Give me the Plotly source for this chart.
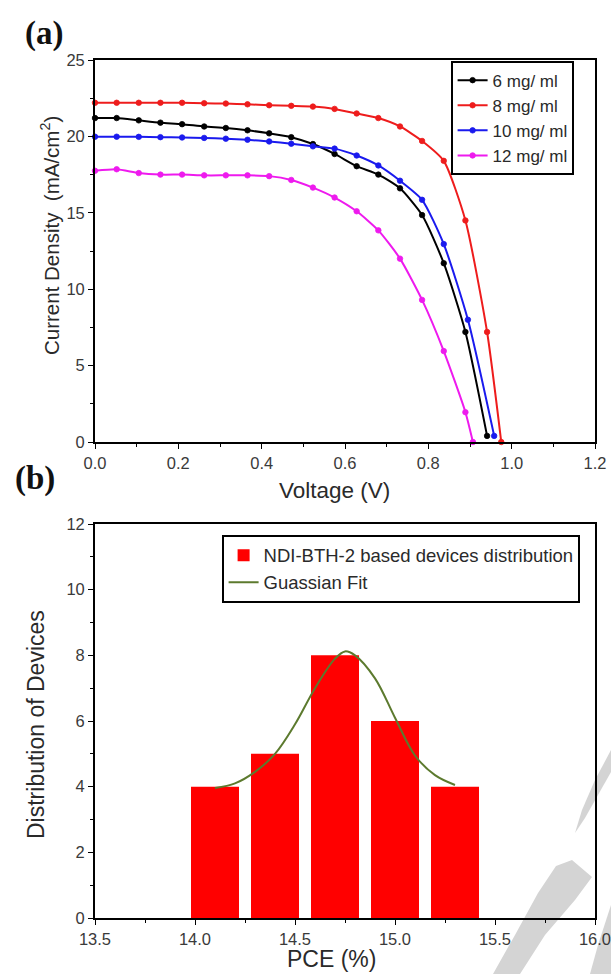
import plotly.graph_objects as go

# ---------------- Data: panel (a) J-V curves ----------------
voltage_6 = [0.0, 0.052, 0.105, 0.157, 0.209, 0.262, 0.314, 0.366, 0.418, 0.471, 0.523, 0.575, 0.628, 0.680, 0.732, 0.785, 0.837, 0.889, 0.941]
current_6 = [21.2, 21.2, 21.05, 20.9, 20.8, 20.65, 20.55, 20.4, 20.2, 19.95, 19.5, 18.85, 18.05, 17.5, 16.6, 14.85, 11.7, 7.2, 0.4]

voltage_8 = [0.0, 0.052, 0.105, 0.157, 0.209, 0.262, 0.314, 0.366, 0.418, 0.471, 0.523, 0.575, 0.628, 0.680, 0.732, 0.785, 0.837, 0.889, 0.941, 0.975]
current_8 = [22.2, 22.2, 22.2, 22.2, 22.2, 22.17, 22.15, 22.1, 22.04, 22.0, 21.95, 21.8, 21.5, 21.2, 20.65, 19.7, 18.4, 14.5, 7.2, 0.0]

voltage_10 = [0.0, 0.052, 0.105, 0.157, 0.209, 0.262, 0.314, 0.366, 0.418, 0.471, 0.523, 0.575, 0.628, 0.680, 0.732, 0.785, 0.837, 0.895, 0.958]
current_10 = [19.98, 19.98, 19.97, 19.95, 19.93, 19.9, 19.85, 19.78, 19.67, 19.52, 19.35, 19.2, 18.75, 18.1, 17.1, 15.85, 12.95, 8.0, 0.4]

voltage_12 = [0.0, 0.052, 0.105, 0.157, 0.209, 0.262, 0.314, 0.366, 0.418, 0.471, 0.523, 0.575, 0.628, 0.680, 0.732, 0.785, 0.837, 0.889, 0.907]
current_12 = [17.75, 17.85, 17.6, 17.5, 17.5, 17.45, 17.45, 17.45, 17.4, 17.15, 16.65, 16.0, 15.1, 13.85, 12.0, 9.3, 5.95, 1.95, 0.0]

series_names = ["6 mg/ ml", "8 mg/ ml", "10 mg/ ml", "12 mg/ ml"]
series_colors = ["#000000", "#ee1c1c", "#1a1aee", "#ee1aee"]

# ---------------- Data: panel (b) PCE distribution ----------------
pce_bins = [14.1, 14.4, 14.7, 15.0, 15.3]
device_counts = [4, 5, 8, 6, 4]
fit_x = [14.1, 14.2, 14.3, 14.4, 14.5, 14.6, 14.7, 14.75, 14.8, 14.9, 15.0, 15.1, 15.2, 15.3]
fit_y = [3.96, 4.1, 4.45, 5.0, 5.9, 7.0, 7.9, 8.12, 8.0, 7.3, 6.1, 4.95, 4.35, 4.05]

FONT = "Liberation Sans, Arial, sans-serif"
SERIF = "Liberation Serif, Times New Roman, serif"
TXT = "#2a2a2a"
TICK = "#3a3a3a"

W, H = 611, 974
ML, MR, MT, MB = 95, 16, 60, 56
PW, PH = W - ML - MR, H - MT - MB


def px(x):
    return (x - ML) / PW


def py(y):
    return (H - MB - y) / PH


fig = go.Figure()

vs = [voltage_6, voltage_8, voltage_10, voltage_12]
cs = [current_6, current_8, current_10, current_12]
for v, c, n, col in zip(vs, cs, series_names, series_colors):
    fig.add_trace(go.Scatter(
        x=v, y=c, name=n, mode="lines+markers",
        line=dict(color=col, width=2, shape="spline", smoothing=0.6),
        marker=dict(symbol="circle", size=5.5, color=col,
                    line=dict(color=col, width=0.8)),
        xaxis="x", yaxis="y", legend="legend", cliponaxis=False,
    ))

fig.add_trace(go.Bar(
    x=pce_bins, y=device_counts, width=0.24,
    name="NDI-BTH-2 based devices distribution",
    marker=dict(color="#ff0000", line=dict(width=0)),
    xaxis="x2", yaxis="y2", legend="legend2",
))
fig.add_trace(go.Scatter(
    x=fit_x, y=fit_y, name="Guassian Fit", mode="lines",
    line=dict(color="#5c7a2e", width=2, shape="spline", smoothing=1.0),
    xaxis="x2", yaxis="y2", legend="legend2",
))

axis_common = dict(
    showline=True, linecolor="black", linewidth=1.8, mirror=True,
    ticks="outside", ticklen=5, tickwidth=1.4, tickcolor="black",
    showgrid=False, zeroline=False, automargin=False,
    ticklabeloverflow="allow",
    tickfont=dict(family=FONT, size=16.5, color=TICK),
)
minor_common = dict(ticks="outside", ticklen=3, tickwidth=1.2, tickcolor="black")

a_bottom = py(442)
b_top = py(524)

fig.update_layout(
    width=W, height=H,
    margin=dict(l=ML, r=MR, t=MT, b=MB),
    paper_bgcolor="white", plot_bgcolor="white",
    showlegend=True,
    xaxis=dict(domain=[0, 1], anchor="y", range=[0, 1.2], dtick=0.2, tickformat=".1f",
               minor=dict(dtick=0.1, **minor_common), **axis_common),
    yaxis=dict(domain=[a_bottom, 1.0], anchor="x", range=[0, 25], dtick=5,
               minor=dict(dtick=2.5, **minor_common), **axis_common),
    xaxis2=dict(domain=[0, 1], anchor="y2", range=[13.5, 16.0], dtick=0.5, tickformat=".1f",
                minor=dict(dtick=0.25, **minor_common), **axis_common),
    yaxis2=dict(domain=[0.0, b_top], anchor="x2", range=[0, 12], dtick=2,
                minor=dict(dtick=1, **minor_common), **axis_common),
    legend=dict(x=px(451), y=py(61), xanchor="left", yanchor="top",
                bgcolor="white", bordercolor="black", borderwidth=1.6,
                font=dict(family=FONT, size=17, color=TXT),
                tracegroupgap=0, itemwidth=30),
    legend2=dict(x=px(222), y=py(535), xanchor="left", yanchor="top",
                 bgcolor="white", bordercolor="black", borderwidth=1.6,
                 font=dict(family=FONT, size=18.5, color=TXT),
                 tracegroupgap=0, itemwidth=30),
)

# watermark strokes (light grey decoration, below the axes frame)
def path(points):
    s = "M " + " L ".join(f"{px(a):.4f},{py(b):.4f}" for a, b in points) + " Z"
    return s

wm = [
    [(611, 750), (611, 772), (598, 795), (585, 818), (575, 833), (582, 810), (595, 780)],
    [(556, 866), (572, 860), (592, 877), (575, 900), (545, 935), (520, 974), (493, 974), (515, 935), (538, 893)],
    [(611, 905), (611, 974), (590, 974), (598, 945)],
]
for pts in wm:
    fig.add_shape(type="path", path=path(pts), xref="paper", yref="paper",
                  fillcolor="#d4d4d4", line=dict(width=0), layer="below")

# axis titles and panel labels as annotations (pixel-placed)
def ann(text, x, y, size, angle=0, family=FONT, color=TXT):
    fig.add_annotation(text=text, xref="paper", yref="paper", x=px(x), y=py(y),
                       xanchor="center", yanchor="middle", showarrow=False,
                       textangle=angle, font=dict(family=family, size=size, color=color))

ann("Voltage (V)", 334, 490, 22.5)
ann("PCE (%)", 331, 959, 23)
ann("Current Density  (mA/cm<sup>2</sup>)", 50, 236, 20.5, angle=-90)
ann("Distribution of Devices", 36, 725, 23, angle=-90)
ann("<b>(a)</b>", 44, 33, 33, family=SERIF, color="#111")
ann("<b>(b)</b>", 35, 479, 33, family=SERIF, color="#111")

fig.write_html(
    "out.html",
    config={"displayModeBar": False},
    post_script="document.documentElement.style.margin='0';document.body.style.margin='0';"
                "document.documentElement.style.overflow='hidden';document.body.style.overflow='hidden';",
)
